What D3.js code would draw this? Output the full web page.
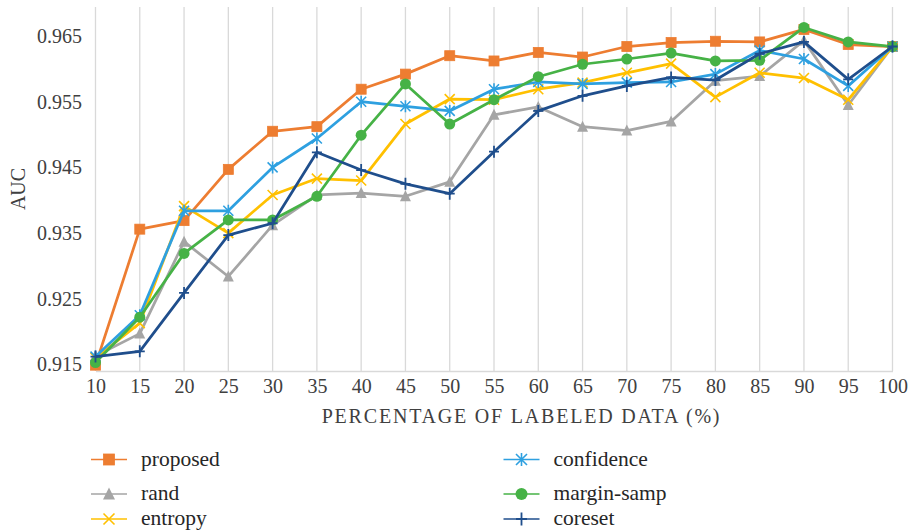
<!DOCTYPE html>
<html>
<head>
<meta charset="utf-8">
<script src="https://cdn.jsdelivr.net/npm/d3@7"></script>
<style>
  html, body { margin: 0; padding: 0; background: #fff; }
  svg text { font-family: "Liberation Serif", "DejaVu Serif", "Times New Roman", Times, serif !important; }
</style>
</head>
<body>
<svg id="chart" width="908" height="532"></svg>
<script>
const categories = [10, 15, 20, 25, 30, 35, 40, 45, 50, 55, 60, 65, 70, 75, 80, 85, 90, 95, 100];
const yTicks = [0.915, 0.925, 0.935, 0.945, 0.955, 0.965];

const proposed   = [0.9149, 0.9356, 0.9369, 0.9447, 0.9505, 0.9512, 0.9569, 0.9592, 0.9620, 0.9612, 0.9625, 0.9618, 0.9634, 0.9640, 0.9642, 0.9641, 0.9660, 0.9637, 0.9634];
const rand       = [0.9163, 0.9197, 0.9337, 0.9284, 0.9362, 0.9408, 0.9411, 0.9406, 0.9428, 0.9530, 0.9542, 0.9512, 0.9506, 0.9520, 0.9582, 0.9589, 0.9643, 0.9545, 0.9634];
const entropy    = [0.9160, 0.9213, 0.9391, 0.9350, 0.9408, 0.9433, 0.9430, 0.9516, 0.9554, 0.9553, 0.9569, 0.9579, 0.9594, 0.9608, 0.9557, 0.9594, 0.9586, 0.9553, 0.9634];
const confidence = [0.9162, 0.9225, 0.9384, 0.9384, 0.9450, 0.9494, 0.9550, 0.9543, 0.9536, 0.9569, 0.9580, 0.9577, 0.9579, 0.9580, 0.9592, 0.9628, 0.9615, 0.9574, 0.9634];
const marginSamp = [0.9153, 0.9222, 0.9319, 0.9370, 0.9370, 0.9406, 0.9499, 0.9577, 0.9516, 0.9553, 0.9588, 0.9607, 0.9615, 0.9624, 0.9612, 0.9613, 0.9663, 0.9641, 0.9634];
const coreset    = [0.9162, 0.9170, 0.9259, 0.9347, 0.9365, 0.9473, 0.9446, 0.9425, 0.9410, 0.9474, 0.9536, 0.9559, 0.9574, 0.9587, 0.9583, 0.9623, 0.9641, 0.9584, 0.9634];

const seriesNames = ["proposed", "rand", "entropy", "confidence", "margin-samp", "coreset"];
const seriesValues = [proposed, rand, entropy, confidence, marginSamp, coreset];
const seriesColors = ["#ED7D31", "#A5A5A5", "#FFC000", "#2EA0E0", "#46B246", "#1F4E8C"];
const seriesMarkers = ["square", "triangle", "x", "star", "circle", "plus"];

const SERIF = '"Liberation Serif", "DejaVu Serif", "Times New Roman", Times, serif';
const svg = d3.select("#chart");
const plotTop = 7, plotBottom = 371, plotLeft = 95.5, plotRight = 892.5;

const x = d3.scalePoint().domain(categories).range([plotLeft, plotRight]).padding(0);
const y = d3.scaleLinear().domain([0.915, 0.965]).range([364.5, 36]);

// vertical gridlines
svg.append("g").selectAll("line").data(categories).join("line")
  .attr("x1", d => x(d)).attr("x2", d => x(d))
  .attr("y1", plotTop).attr("y2", plotBottom)
  .attr("stroke", "#D9D9D9").attr("stroke-width", 1.3);

// x axis
const xAxis = svg.append("g").attr("transform", `translate(0,${plotBottom})`)
  .call(d3.axisBottom(x).tickSize(0).tickPadding(8));
xAxis.attr("font-family", null);
xAxis.select(".domain").attr("stroke", "#D9D9D9").attr("stroke-width", 1.3);
xAxis.selectAll("text").attr("font-size", 20).attr("fill", "#404040").style("font-family", SERIF);

// y axis
const yAxis = svg.append("g").attr("transform", `translate(82,0)`)
  .call(d3.axisLeft(y).tickValues(yTicks).tickFormat(d3.format(".3f")).tickSize(0).tickPadding(0));
yAxis.attr("font-family", null);
yAxis.select(".domain").remove();
yAxis.selectAll("text").attr("font-size", 20).attr("fill", "#404040").style("font-family", SERIF);

// axis titles
svg.append("text").attr("x", 521.5).attr("y", 423)
  .attr("text-anchor", "middle").attr("font-size", 20).attr("fill", "#404040")
  .attr("letter-spacing", 1.8).style("font-family", SERIF)
  .text("PERCENTAGE OF LABELED DATA (%)");
svg.append("text").attr("transform", `translate(25,189) rotate(-90)`)
  .attr("text-anchor", "middle").attr("font-size", 20).attr("fill", "#404040")
  .style("font-family", SERIF)
  .text("AUC");

function drawMarker(g, type, color, cx, cy, s) {
  const h = s / 2;
  if (type === "square") {
    g.append("rect").attr("x", cx - h).attr("y", cy - h).attr("width", s).attr("height", s)
      .attr("fill", color).attr("stroke", color).attr("stroke-width", 0.8);
  } else if (type === "triangle") {
    g.append("path").attr("d", `M${cx},${cy - h - 1}L${cx + h + 0.5},${cy + h}L${cx - h - 0.5},${cy + h}Z`)
      .attr("fill", color);
  } else if (type === "circle") {
    g.append("circle").attr("cx", cx).attr("cy", cy).attr("r", h + 0.5).attr("fill", color);
  } else if (type === "x") {
    g.append("path").attr("d", `M${cx - h},${cy - h}L${cx + h},${cy + h}M${cx - h},${cy + h}L${cx + h},${cy - h}`)
      .attr("stroke", color).attr("stroke-width", 1.6).attr("fill", "none");
  } else if (type === "star") {
    g.append("path").attr("d", `M${cx - h},${cy - h}L${cx + h},${cy + h}M${cx - h},${cy + h}L${cx + h},${cy - h}M${cx},${cy - h - 1}L${cx},${cy + h + 1}`)
      .attr("stroke", color).attr("stroke-width", 1.6).attr("fill", "none");
  } else if (type === "plus") {
    g.append("path").attr("d", `M${cx - h},${cy}L${cx + h},${cy}M${cx},${cy - h - 1}L${cx},${cy + h + 1}`)
      .attr("stroke", color).attr("stroke-width", 1.8).attr("fill", "none");
  }
}

const line = d3.line().x((d, i) => x(categories[i])).y(d => y(d));

seriesValues.forEach((vals, si) => {
  const g = svg.append("g");
  g.append("path").datum(vals).attr("d", line)
    .attr("fill", "none").attr("stroke", seriesColors[si]).attr("stroke-width", 2.75)
    .attr("stroke-linejoin", "round");
  vals.forEach((v, i) => drawMarker(g, seriesMarkers[si], seriesColors[si], x(categories[i]), y(v), 10));
});

// legend
const legendPos = [
  [109, 459.5], [109, 494], [109, 519],
  [521.5, 459.5], [521.5, 494], [521.5, 519]
];
seriesNames.forEach((name, si) => {
  const [cx, cy] = legendPos[si];
  const g = svg.append("g");
  g.append("line").attr("x1", cx - 18).attr("x2", cx + 18).attr("y1", cy).attr("y2", cy)
    .attr("stroke", seriesColors[si]).attr("stroke-width", 1.6);
  drawMarker(g, seriesMarkers[si], seriesColors[si], cx, cy, 11);
  g.append("text").attr("x", cx + 32).attr("y", cy + 6).attr("font-size", 21.5).attr("fill", "#262626")
    .style("font-family", SERIF)
    .text(name);
});
</script>
</body>
</html>
